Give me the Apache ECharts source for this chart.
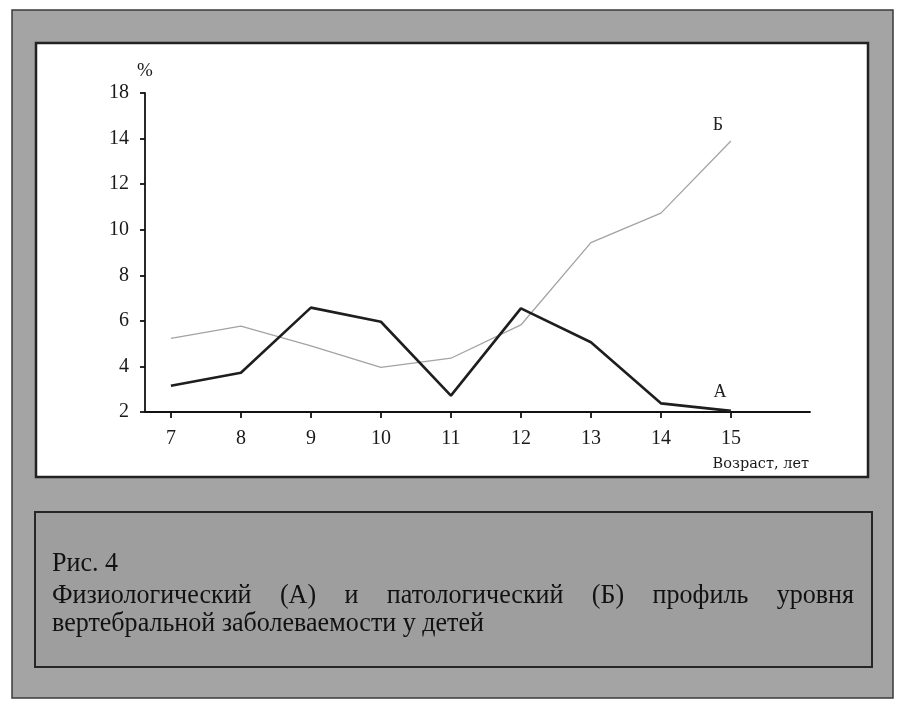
<!DOCTYPE html>
<html>
<head>
<meta charset="utf-8">
<script src="https://cdn.jsdelivr.net/npm/echarts@6/dist/echarts.min.js"></script>
<style>
html,body{margin:0;padding:0;background:#fff;}
#chart{width:897px;height:703px;}
</style>
</head>
<body>
<div id="chart"></div>
<script>
// ---- data ----
const ages = [7, 8, 9, 10, 11, 12, 13, 14, 15];
const seriesA = [3.15, 3.72, 6.58, 5.96, 2.72, 6.55, 5.06, 2.38, 2.05];   // физиологический (А)
const seriesB = [5.23, 5.77, 4.9, 3.96, 4.36, 5.82, 9.43, 10.73, 13.89]; // патологический (Б)
const yTickValues = [2, 4, 6, 8, 10, 12, 14, 16];
const yTickLabels = ['2', '4', '6', '8', '10', '12', '14', '18'];
const seriesNames = ['А', 'Б'];
const yAxisName = '%';
const xAxisName = 'Возраст, лет';
const captionTitle = 'Рис. 4';
const captionLine2 = ['Физиологический', '(А)', 'и', 'патологический', '(Б)', 'профиль', 'уровня'];
const captionLine3 = 'вертебральной заболеваемости у детей';

// ---- caption layout (justified text) ----
const capFontSize = 28;
const capFont = capFontSize + 'px "Liberation Serif"';
const ctx = document.createElement('canvas').getContext('2d');
ctx.font = capFont;
const measure = t => ctx.measureText(t).width;
const capLeft = 52, capRight = 854, line3Width = 432;
const sx = line3Width / measure(captionLine3);
const capColor = '#111111';
const capTexts = [];
function capText(text, x, baseline) {
  capTexts.push({
    type: 'text', x: x, y: baseline - 9, scaleX: sx, z: 5,
    style: { text: text, font: capFont, fill: capColor, align: 'left', verticalAlign: 'middle' }
  });
}
capText(captionTitle, capLeft, 573);
(function () {
  const widths = captionLine2.map(w => measure(w) * sx);
  const total = widths.reduce((a, b) => a + b, 0);
  const gap = (capRight - capLeft - total) / (captionLine2.length - 1);
  let x = capLeft;
  captionLine2.forEach((w, i) => { capText(w, x, 605); x += widths[i] + gap; });
})();
capText(captionLine3, capLeft, 633);

function toPairs(vals, name) {
  return vals.map((v, i) => {
    const item = { value: [ages[i], v] };
    if (i === vals.length - 1) {
      item.label = {
        show: true, formatter: name, position: 'top',
        offset: name === 'Б' ? [-13, -2] : [-11, -5],
        fontFamily: 'Liberation Serif', fontSize: 18, color: '#222'
      };
    }
    return item;
  });
}

const chart = echarts.init(document.getElementById('chart'), null, { renderer: 'canvas' });
const axisFont = { fontFamily: 'Liberation Serif', fontSize: 20, color: '#1a1a1a' };
chart.setOption({
  animation: false,
  backgroundColor: '#ffffff',
  graphic: [
    { type: 'rect', z: -10, shape: { x: 12, y: 10, width: 881, height: 688 },
      style: { fill: '#a4a4a4', stroke: '#3a3a3a', lineWidth: 1.5 } },
    { type: 'rect', z: -9, shape: { x: 36, y: 43, width: 832, height: 434 },
      style: { fill: '#ffffff', stroke: '#222222', lineWidth: 2.5 } },
    { type: 'rect', z: -9, shape: { x: 35, y: 512, width: 837, height: 155 },
      style: { fill: '#9e9e9e', stroke: '#262626', lineWidth: 2 } }
  ].concat(capTexts),
  grid: { left: 145, right: 87, top: 93, bottom: 291 },
  xAxis: {
    type: 'value', min: 6.63, max: 16.13,
    name: xAxisName, nameLocation: 'end', nameGap: -1,
    nameTextStyle: { fontFamily: 'DejaVu Serif', fontSize: 14.5, color: '#1a1a1a',
      align: 'right', verticalAlign: 'top', padding: [45, 0, 0, 0] },
    axisLine: { show: true, onZero: false, lineStyle: { color: '#111', width: 1.8 } },
    axisTick: { show: true, length: 6, customValues: ages, lineStyle: { color: '#111', width: 1.8 } },
    axisLabel: Object.assign({ margin: 17, customValues: ages, formatter: v => String(v) }, axisFont),
    splitLine: { show: false }
  },
  yAxis: {
    type: 'value', min: 2, max: 16,
    name: yAxisName, nameLocation: 'end', nameGap: 12,
    nameTextStyle: { fontFamily: 'Liberation Serif', fontSize: 19, color: '#1a1a1a', align: 'center' },
    axisLine: { show: true, onZero: false, lineStyle: { color: '#111', width: 1.8 } },
    axisTick: { show: true, length: 5, customValues: yTickValues, lineStyle: { color: '#111', width: 1.8 } },
    axisLabel: Object.assign({ margin: 16, customValues: yTickValues,
      formatter: v => yTickLabels[yTickValues.indexOf(v)] }, axisFont),
    splitLine: { show: false }
  },
  series: [
    { name: seriesNames[1], type: 'line', data: toPairs(seriesB, seriesNames[1]),
      symbol: 'circle', symbolSize: 0, showSymbol: true,
      lineStyle: { color: '#a3a3a3', width: 1.3 }, itemStyle: { color: '#a3a3a3' }, z: 3 },
    { name: seriesNames[0], type: 'line', data: toPairs(seriesA, seriesNames[0]),
      symbol: 'circle', symbolSize: 0, showSymbol: true,
      lineStyle: { color: '#1e1e1e', width: 2.6 }, itemStyle: { color: '#1e1e1e' }, z: 4 }
  ]
});
</script>
</body>
</html>
